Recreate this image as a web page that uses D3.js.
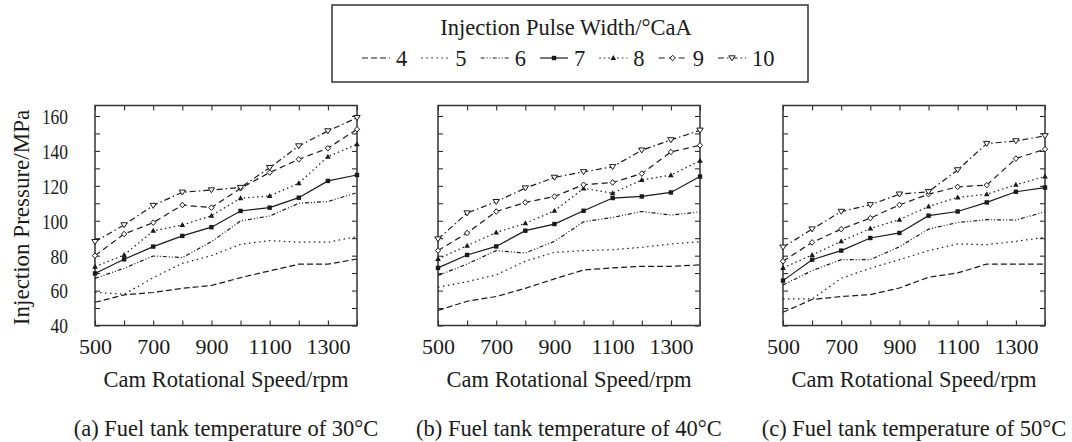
<!DOCTYPE html>
<html>
<head>
<meta charset="utf-8">
<script src="https://cdn.jsdelivr.net/npm/d3@7"></script>
<style>
    body { margin: 0; background: #fff; }
    svg { display: block; }
    svg text { font-family: "Liberation Serif", "Times New Roman", Times, "DejaVu Serif", serif; }
</style>
</head>
<body>
<div id="chart"></div>
<script>
const speeds = [500, 600, 700, 800, 900, 1000, 1100, 1200, 1300, 1400];
const pulseWidths = [4, 5, 6, 7, 8, 9, 10];
const xTickLabels = [500, 700, 900, 1100, 1300];
const yTickLabels = [40, 60, 80, 100, 120, 140, 160];
const captions = [
    "(a) Fuel tank temperature of 30°C",
    "(b) Fuel tank temperature of 40°C",
    "(c) Fuel tank temperature of 50°C"
];

// injection pressure (MPa), one row per pulse width 4..10
const pressure30 = [
    [53.3, 57.5, 58.9, 61.3, 62.9, 67.4, 71.3, 75.1, 75.1, 78.1],
    [59.0, 57.9, 67.4, 75.6, 80.0, 86.5, 88.6, 87.7, 87.7, 90.9],
    [67.0, 72.8, 79.8, 78.9, 88.0, 99.9, 102.7, 110.0, 111.0, 116.1],
    [69.8, 77.9, 85.2, 91.3, 96.3, 105.6, 107.5, 113.2, 122.8, 126.2],
    [73.7, 80.4, 94.2, 97.6, 102.9, 112.9, 114.2, 121.5, 136.7, 143.8],
    [80.0, 92.4, 98.9, 109.0, 107.5, 118.6, 127.6, 135.2, 141.5, 152.4],
    [88.0, 97.6, 108.7, 116.3, 117.6, 119.0, 130.4, 142.8, 151.4, 159.0]
];
const pressure40 = [
    [48.6, 53.9, 56.6, 61.3, 66.7, 71.8, 73.0, 73.9, 73.9, 74.7],
    [61.9, 65.1, 69.0, 76.8, 81.9, 82.9, 83.4, 84.8, 86.7, 88.0],
    [68.6, 75.2, 82.9, 81.5, 88.2, 99.4, 101.9, 105.3, 103.2, 105.1],
    [73.0, 80.4, 85.3, 94.3, 98.1, 105.7, 113.0, 113.9, 116.2, 125.3],
    [78.1, 85.7, 93.3, 98.5, 105.7, 118.5, 115.8, 123.4, 126.1, 134.3],
    [82.9, 93.0, 105.3, 110.5, 113.9, 120.6, 121.9, 127.0, 139.4, 143.2],
    [89.5, 104.4, 110.9, 118.7, 124.8, 128.0, 130.9, 140.4, 146.3, 151.8]
];
const pressure50 = [
    [47.6, 54.9, 56.6, 57.7, 61.5, 67.6, 70.1, 75.2, 75.2, 75.2],
    [55.2, 55.2, 67.0, 72.8, 77.7, 82.9, 86.7, 86.3, 88.2, 90.5],
    [63.2, 71.4, 77.7, 77.7, 85.1, 95.2, 99.0, 100.6, 100.4, 105.1],
    [65.7, 77.7, 82.9, 90.1, 93.0, 102.9, 105.3, 110.5, 116.6, 119.0],
    [73.0, 80.4, 88.2, 95.6, 100.6, 108.2, 113.3, 115.2, 120.6, 125.3],
    [76.8, 87.6, 95.2, 101.5, 109.1, 115.2, 119.4, 120.4, 135.6, 141.0],
    [84.8, 95.2, 105.3, 109.1, 115.2, 116.6, 129.1, 144.2, 145.7, 148.6]
];

// line style per pulse width
const dashes = ["6,3", "1.5,3.5", "4,2,1,2,1,2", null, "1.5,3", "6,4", "6,3,1.5,3"];
const markers = [null, null, null, "square", "triangle", "diamond", "down"];

const W = 1072, H = 442;
const ink = "#1a1a1a";

const svg = d3.select("#chart")
    .append("svg")
    .attr("width", W)
    .attr("height", H);

function drawMarker(g, type, cx, cy) {
    if (type === "square") {
        g.append("rect")
            .attr("x", cx - 2.2).attr("y", cy - 2.2)
            .attr("width", 4.4).attr("height", 4.4)
            .attr("fill", ink);
    } else if (type === "triangle") {
        g.append("path")
            .attr("d", `M${cx},${cy - 3}L${cx + 2.8},${cy + 2}L${cx - 2.8},${cy + 2}Z`)
            .attr("fill", ink);
    } else if (type === "diamond") {
        g.append("path")
            .attr("d", `M${cx},${cy - 2.8}L${cx + 2.6},${cy}L${cx},${cy + 2.8}L${cx - 2.6},${cy}Z`)
            .attr("fill", "#fff")
            .attr("stroke", ink)
            .attr("stroke-width", 1);
    } else if (type === "down") {
        g.append("path")
            .attr("d", `M${cx - 3.2},${cy - 2.2}L${cx + 3.2},${cy - 2.2}L${cx},${cy + 2.8}Z`)
            .attr("fill", "#fff")
            .attr("stroke", ink)
            .attr("stroke-width", 1);
    }
}

function createPanel(left, data, caption, showYLabels) {
    const top = 105.5, bottom = 325.5, width = 262;

    const x = d3.scaleLinear().domain([500, 1400]).range([left, left + width]);
    const y = d3.scaleLinear().domain([40, 166]).range([bottom, top]);

    const g = svg.append("g");

    // inward ticks on all four sides
    const xTicks = speeds;
    const yTicks = d3.range(40, 161, 10);

    g.append("g")
        .attr("transform", `translate(0,${bottom})`)
        .call(d3.axisBottom(x).tickValues(xTicks).tickSize(-5).tickFormat(""))
        .call(a => a.select(".domain").remove());
    g.append("g")
        .attr("transform", `translate(0,${top})`)
        .call(d3.axisTop(x).tickValues(xTicks).tickSize(-5).tickFormat(""))
        .call(a => a.select(".domain").remove());
    g.append("g")
        .attr("transform", `translate(${left},0)`)
        .call(d3.axisLeft(y).tickValues(yTicks).tickSize(-5).tickFormat(""))
        .call(a => a.select(".domain").remove());
    g.append("g")
        .attr("transform", `translate(${left + width},0)`)
        .call(d3.axisRight(y).tickValues(yTicks).tickSize(-5).tickFormat(""))
        .call(a => a.select(".domain").remove());
    g.selectAll(".tick line").attr("stroke", ink).attr("stroke-width", 1);

    // x tick labels
    g.append("g")
        .attr("transform", `translate(0,${bottom})`)
        .call(d3.axisBottom(x).tickValues(xTickLabels).tickSize(0).tickPadding(28).tickFormat(d3.format("d")))
        .call(a => a.select(".domain").remove())
        .selectAll("text")
        .attr("dy", 0)
        .attr("fill", ink)
        .attr("font-size", "22px");

    if (showYLabels) {
        g.append("g")
            .attr("transform", `translate(${left},0)`)
            .call(d3.axisLeft(y).tickValues(yTickLabels).tickSize(0).tickPadding(27).tickFormat(d3.format("d")))
            .call(a => a.select(".domain").remove())
            .selectAll("text")
            .attr("dy", "0.35em")
            .attr("fill", ink)
            .attr("font-size", "21px")
            .attr("textLength", d => String(d).length * 8.7)
            .attr("lengthAdjust", "spacingAndGlyphs");

        g.append("text")
            .attr("transform", `translate(29,${(top + bottom) / 2 + 2}) rotate(-90)`)
            .attr("text-anchor", "middle")
            .attr("font-size", "23px")
            .attr("fill", ink)
            .text("Injection Pressure/MPa");
    }

    // frame
    g.append("rect")
        .attr("x", left).attr("y", top)
        .attr("width", width).attr("height", bottom - top)
        .attr("fill", "none")
        .attr("stroke", "#333")
        .attr("stroke-width", 1.5);

    const line = d3.line()
        .x((d, i) => x(speeds[i]))
        .y(d => y(d));

    data.forEach((values, k) => {
        g.append("path")
            .datum(values)
            .attr("d", line)
            .attr("fill", "none")
            .attr("stroke", ink)
            .attr("stroke-width", 1.2)
            .attr("stroke-dasharray", dashes[k]);
        if (markers[k]) {
            values.forEach((v, i) => drawMarker(g, markers[k], x(speeds[i]), y(v)));
        }
    });

    g.append("text")
        .attr("x", left + width / 2)
        .attr("y", 387)
        .attr("text-anchor", "middle")
        .attr("font-size", "22.5px")
        .attr("fill", ink)
        .text("Cam Rotational Speed/rpm");

    g.append("text")
        .attr("x", left + width / 2)
        .attr("y", 436)
        .attr("text-anchor", "middle")
        .attr("font-size", "22.5px")
        .attr("fill", ink)
        .text(caption);
}

createPanel(95, pressure30, captions[0], true);
createPanel(438, pressure40, captions[1], false);
createPanel(783, pressure50, captions[2], false);

// legend
const legend = svg.append("g");
legend.append("rect")
    .attr("x", 332).attr("y", 5)
    .attr("width", 476).attr("height", 77)
    .attr("fill", "#fff")
    .attr("stroke", "#333")
    .attr("stroke-width", 1.5);

legend.append("text")
    .attr("x", 566)
    .attr("y", 35)
    .attr("text-anchor", "middle")
    .attr("font-size", "22.5px")
    .attr("fill", ink)
    .text("Injection Pulse Width/°CaA");

const legendX = d3.scalePoint().domain(pulseWidths).range([362, 718]);
pulseWidths.forEach((p, k) => {
    const x0 = legendX(p);
    legend.append("line")
        .attr("x1", x0).attr("x2", x0 + 28)
        .attr("y1", 58).attr("y2", 58)
        .attr("stroke", ink)
        .attr("stroke-width", 1.2)
        .attr("stroke-dasharray", dashes[k]);
    if (markers[k]) drawMarker(legend, markers[k], x0 + 14, 58);
    legend.append("text")
        .attr("x", x0 + 34)
        .attr("y", 66)
        .attr("font-size", "22.5px")
        .attr("fill", ink)
        .text(p);
});
</script>
</body>
</html>
